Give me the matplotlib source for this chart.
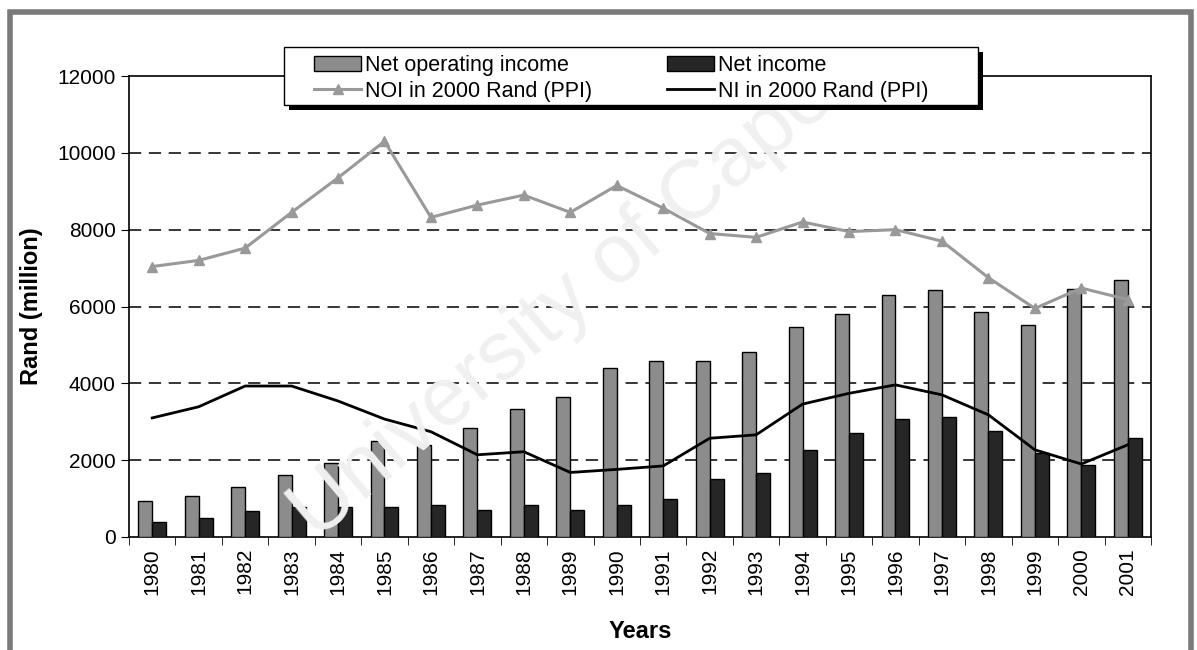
import matplotlib.pyplot as plt
import numpy as np
from matplotlib.patches import Rectangle

plt.rcParams['font.family'] = ['Liberation Sans', 'DejaVu Sans']

# Data
years = [str(y) for y in range(1980, 2002)]
net_operating_income = [940, 1065, 1305, 1610, 1915, 2490, 2400, 2845, 3335, 3655,
                        4400, 4590, 4590, 4805, 5455, 5815, 6310, 6425, 5860, 5510,
                        6450, 6700]
net_income = [400, 505, 680, 770, 770, 770, 820, 715, 820, 715,
              845, 990, 1515, 1655, 2265, 2715, 3065, 3115, 2750, 2175,
              1870, 2570]
noi_2000_rand = [7040, 7200, 7520, 8450, 9350, 10300, 8320, 8640, 8900, 8450,
                 9150, 8560, 7900, 7800, 8200, 7950, 8000, 7700, 6750, 5950,
                 6480, 6180]
ni_2000_rand = [3100, 3390, 3930, 3930, 3540, 3070, 2740, 2140, 2220, 1680,
                1760, 1850, 2570, 2660, 3460, 3740, 3960, 3700, 3180, 2270,
                1900, 2400]

W, H = 1197, 650
fig = plt.figure(figsize=(W / 100, H / 100), dpi=100)
ax = fig.add_axes([129 / W, 1 - 537 / H, 1022 / W, 461 / H])
ax.patch.set_alpha(0)

# outer grey frame
fig.patches.append(Rectangle((10 / W, -0.01), 1181 / W, 1 - 12 / H + 0.01,
                             transform=fig.transFigure, fill=False,
                             edgecolor='#7a7a7a', linewidth=4, zorder=0))

# faint watermark
fig.text(0.47, 0.53, 'University of Cape', fontsize=60, color='#f0f0f0',
         rotation=40, ha='center', va='center', zorder=0)

x = np.arange(len(years))
w = 0.3
ax.bar(x - w / 2, net_operating_income, w, color='#8c8c8c', edgecolor='black',
       linewidth=1, label='Net operating income', zorder=3)
ax.bar(x + w / 2, net_income, w, color='#262626', edgecolor='black',
       linewidth=1, label='Net income', zorder=3)
ax.plot(x, noi_2000_rand, color='#999999', marker='^', markersize=7, linewidth=2.2,
        label='NOI in 2000 Rand (PPI)', zorder=4)
ax.plot(x, ni_2000_rand, color='black', linewidth=2, label='NI in 2000 Rand (PPI)', zorder=4)

ax.set_xlim(-0.5, len(years) - 0.5)
ax.set_ylim(0, 12000)
ax.set_yticks(range(0, 12001, 2000))
ax.set_xticks(x)
ax.set_xticklabels(years, rotation=90)
ax.set_xticks(np.arange(-0.5, len(years), 1), minor=True)
ax.tick_params(axis='x', which='major', length=0, labelsize=15, pad=8)
ax.tick_params(axis='x', which='minor', length=6, direction='out')
ax.tick_params(axis='y', labelsize=15, length=6, direction='out')
for yv in range(2000, 12000, 2000):
    ax.axhline(yv, color='black', linestyle=(0, (8, 5)), linewidth=1.1, zorder=1)
for s in ax.spines.values():
    s.set_linewidth(1.2)

ax.set_ylabel('Rand (million)', fontsize=17, fontweight='bold', labelpad=10)
ax.set_xlabel('Years', fontsize=17, fontweight='bold', labelpad=18)

# legend box drawn by hand (wider side padding than matplotlib allows)
fig.patches.append(Rectangle((289 / W, 1 - 110 / H), 694 / W, 58 / H,
                             transform=fig.transFigure, facecolor='black',
                             edgecolor='none', zorder=5))
fig.patches.append(Rectangle((284 / W, 1 - 105 / H), 694 / W, 58 / H,
                             transform=fig.transFigure, facecolor='white',
                             edgecolor='black', linewidth=1, zorder=6))

h, l = ax.get_legend_handles_labels()
order = [2, 0, 3, 1]
leg = fig.legend([h[i] for i in order], [l[i] for i in order], ncol=2,
                 loc='center left', bbox_to_anchor=(314 / W, 1 - 78.5 / H),
                 fontsize=15.5, frameon=False, borderpad=0, borderaxespad=0,
                 labelspacing=0.2, columnspacing=3.5, handlelength=2.2,
                 handletextpad=0.15)
leg.set_zorder(7)

fig.savefig('out.png', dpi=100)
